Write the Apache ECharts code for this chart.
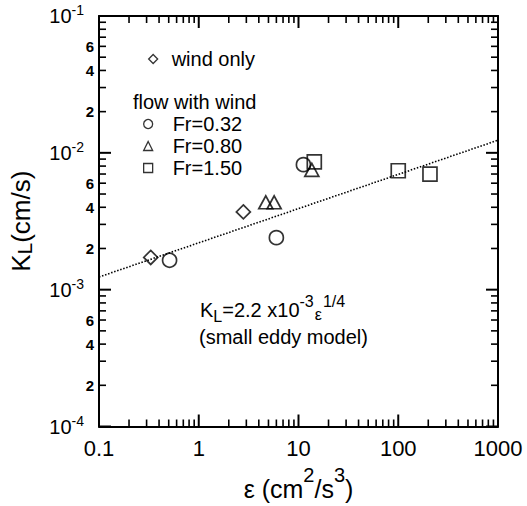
<!DOCTYPE html>
<html>
<head>
<meta charset="utf-8">
<script src="https://cdn.jsdelivr.net/npm/echarts@6/dist/echarts.min.js"></script>
<style>
  html, body { margin: 0; padding: 0; background: #fff; }
  #chart { width: 527px; height: 506px; }
</style>
</head>
<body>
<div id="chart"></div>
<script>
// Mass-transfer velocity K_L against dissipation rate epsilon
const FONT = '"Liberation Sans", Arial, Helvetica, sans-serif';

// axis ranges and tick values
const xRange = [0.1, 1000];
const yRange = [1e-4, 1e-1];
const xDecades = [0.1, 1, 10, 100, 1000];
const yDecades = [1e-4, 1e-3, 1e-2, 1e-1];
const minorSteps = [2, 3, 4, 5, 6, 7, 8, 9];
const yMinorLabelled = [2, 4, 6];

// measurements [epsilon, K_L]
const windOnly = [[0.33, 1.72e-3], [2.8, 3.7e-3]];
const fr032 = [[0.51, 1.64e-3], [6.0, 2.4e-3], [11.2, 8.2e-3]];
const fr080 = [[4.7, 4.35e-3], [5.7, 4.35e-3], [13.6, 7.5e-3]];
const fr150 = [[14.4, 8.6e-3], [100, 7.4e-3], [208, 7.0e-3]];

// small eddy model: K_L = 2.2e-3 * eps^(1/4)
const modelCoef = 2.2e-3;
const modelExp = 0.25;
const modelLine = xRange.map(e => [e, modelCoef * Math.pow(e, modelExp)]);

// tick items: [x, y, axis(0=x,1=y), major(1/0), label]
const tickData = [];
xDecades.forEach((d, i) => {
  tickData.push([d, yRange[0], 0, 1, 0]);
  if (i < xDecades.length - 1) {
    minorSteps.forEach(m => tickData.push([+(d * m).toPrecision(3), yRange[0], 0, 0, 0]));
  }
});
yDecades.forEach((d, i) => {
  tickData.push([xRange[0], d, 1, 1, 0]);
  if (i < yDecades.length - 1) {
    minorSteps.forEach(m => {
      const lab = yMinorLabelled.indexOf(m) >= 0 ? m : 0;
      tickData.push([xRange[0], +(d * m).toPrecision(3), 1, 0, lab]);
    });
  }
});

function renderTicks(params, api) {
  const axis = api.value(2);
  const major = api.value(3) === 1;
  const len = major ? 12 : 7;
  const style = { stroke: '#000', lineWidth: major ? 2 : 1.6 };
  const children = [];
  if (axis === 0) {
    const v = api.value(0);
    const b = api.coord([v, yRange[0]]);
    const t = api.coord([v, yRange[1]]);
    children.push({ type: 'line', shape: { x1: b[0], y1: b[1], x2: b[0], y2: b[1] - len }, style });
    children.push({ type: 'line', shape: { x1: t[0], y1: t[1], x2: t[0], y2: t[1] + len }, style });
  } else {
    const v = api.value(1);
    const l = api.coord([xRange[0], v]);
    const r = api.coord([xRange[1], v]);
    children.push({ type: 'line', shape: { x1: l[0], y1: l[1], x2: l[0] + len, y2: l[1] }, style });
    children.push({ type: 'line', shape: { x1: r[0], y1: r[1], x2: r[0] - len, y2: r[1] }, style });
    const lab = api.value(4);
    if (lab) {
      children.push({
        type: 'text', x: l[0] - 5, y: l[1],
        style: { text: String(lab), fontSize: 15, fontWeight: 'bold', fontFamily: FONT,
                 fill: '#000', align: 'right', verticalAlign: 'middle' }
      });
    }
  }
  return { type: 'group', children };
}

const markerStyle = { color: 'rgba(0,0,0,0)', borderColor: '#000', borderWidth: 1.7 };
const legendText = pad => ({
  fontSize: 20, color: '#000', fontFamily: FONT, lineHeight: 20, padding: [0, 0, 0, pad]
});

const chart = echarts.init(document.getElementById('chart'), null, { renderer: 'svg' });
chart.setOption({
  animation: false,
  backgroundColor: '#fff',
  textStyle: { fontFamily: FONT, color: '#000' },
  grid: { left: 95, top: 16, right: 29, bottom: 73, containLabel: false },
  title: {
    text: 'flow with wind', left: 133, top: 91, padding: 0,
    textStyle: { fontSize: 20, fontWeight: 'normal', color: '#000', fontFamily: FONT, lineHeight: 22 }
  },
  legend: [
    {
      data: ['wind only'], left: 148, top: 49, padding: 0,
      itemWidth: 9, itemHeight: 9, selectedMode: false,
      itemStyle: { borderWidth: 1.3 },
      textStyle: legendText(9)
    },
    {
      data: ['Fr=0.32', 'Fr=0.80', 'Fr=1.50'], orient: 'vertical', left: 143, top: 114, padding: 0,
      itemWidth: 9, itemHeight: 9, itemGap: 2, selectedMode: false,
      itemStyle: { borderWidth: 1.3 },
      textStyle: legendText(15)
    }
  ],
  xAxis: [
    {
      type: 'log', logBase: 10, min: xRange[0], max: xRange[1], interval: 1, position: 'bottom',
      axisLine: { lineStyle: { color: '#000', width: 2 } },
      axisTick: { show: false }, splitLine: { show: false }, minorTick: { show: false },
      axisLabel: {
        fontSize: 22, color: '#000', fontFamily: FONT, margin: 11,
        formatter: v => String(+Number(v).toPrecision(3))
      },
      name: '{e|ε (cm}{sup|2}{e|/s}{sup|3}{e|)}',
      nameLocation: 'middle', nameGap: 38,
      nameTextStyle: {
        color: '#000', fontFamily: FONT,
        rich: {
          e: { fontSize: 25, lineHeight: 48, fontFamily: FONT, color: '#000' },
          sup: { fontSize: 20, lineHeight: 20, verticalAlign: 'top', fontFamily: FONT, color: '#000' }
        }
      }
    },
    {
      type: 'log', logBase: 10, min: xRange[0], max: xRange[1], interval: 1, position: 'top',
      axisLine: { lineStyle: { color: '#000', width: 2 } },
      axisTick: { show: false }, axisLabel: { show: false }, splitLine: { show: false }
    }
  ],
  yAxis: [
    {
      type: 'log', logBase: 10, min: yRange[0], max: yRange[1], interval: 1, position: 'left',
      axisLine: { lineStyle: { color: '#000', width: 2 } },
      axisTick: { show: false }, splitLine: { show: false }, minorTick: { show: false },
      axisLabel: {
        margin: 15, color: '#000', fontFamily: FONT,
        formatter: v => '{b|10}{s|' + Math.round(Math.log10(v)) + '}',
        rich: {
          b: { fontSize: 20, lineHeight: 26, fontFamily: FONT, color: '#000' },
          s: { fontSize: 14, lineHeight: 14, verticalAlign: 'top', fontFamily: FONT, color: '#000' }
        }
      },
      name: '{a|K}{sub|L}{a|(cm/s)}',
      nameLocation: 'middle', nameGap: 63,
      nameTextStyle: {
        color: '#000', fontFamily: FONT,
        rich: {
          a: { fontSize: 26, lineHeight: 30, fontFamily: FONT, color: '#000' },
          sub: { fontSize: 21, verticalAlign: 'bottom', padding: [0, 0, 1, 0], fontFamily: FONT, color: '#000' }
        }
      }
    },
    {
      type: 'log', logBase: 10, min: yRange[0], max: yRange[1], interval: 1, position: 'right',
      axisLine: { lineStyle: { color: '#000', width: 2 } },
      axisTick: { show: false }, axisLabel: { show: false }, splitLine: { show: false }
    }
  ],
  graphic: [
    {
      type: 'text', left: 200, top: 293,
      style: {
        text: '{a|K}{sub|L}{a|=2.2 x10}{sup|-3}{eps|ε}{sup|1/4}',
        rich: {
          a: { fontSize: 20, lineHeight: 34, fontFamily: FONT, fill: '#000' },
          sub: { fontSize: 16, verticalAlign: 'bottom', padding: [0, 0, 3, 0], fontFamily: FONT, fill: '#000' },
          sup: { fontSize: 16, verticalAlign: 'top', fontFamily: FONT, fill: '#000' },
          eps: { fontSize: 16, verticalAlign: 'bottom', padding: [0, 1, 5, 1], fontFamily: FONT, fill: '#000' }
        }
      }
    },
    {
      type: 'text', left: 199, top: 327,
      style: { text: '(small eddy model)', fontSize: 20, lineHeight: 18, fontFamily: FONT, fill: '#000' }
    }
  ],
  series: [
    {
      name: 'model', type: 'line', data: modelLine, symbol: 'none', silent: true,
      lineStyle: { color: '#000', width: 1.6, type: [1.5, 1.7] }, z: 1
    },
    {
      type: 'custom', name: 'ticks', data: tickData, renderItem: renderTicks, silent: true,
      encode: { x: 0, y: 1 }, z: 5
    },
    { name: 'wind only', type: 'scatter', data: windOnly, symbol: 'diamond', symbolSize: 14, itemStyle: markerStyle, z: 3 },
    { name: 'Fr=0.32', type: 'scatter', data: fr032, symbol: 'circle', symbolSize: 14, itemStyle: markerStyle, z: 3 },
    { name: 'Fr=0.80', type: 'scatter', data: fr080, symbol: 'triangle', symbolSize: [14, 13], itemStyle: markerStyle, z: 3 },
    { name: 'Fr=1.50', type: 'scatter', data: fr150, symbol: 'rect', symbolSize: 14, itemStyle: markerStyle, z: 3 }
  ]
});
</script>
</body>
</html>
